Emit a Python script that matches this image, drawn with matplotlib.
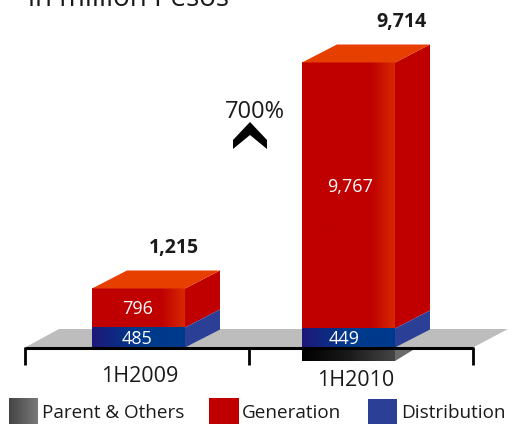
import numpy as np
import matplotlib
matplotlib.use('Agg')
import matplotlib.pyplot as plt
from matplotlib.colors import LinearSegmentedColormap
from matplotlib.patches import Polygon

plt.rcParams['font.family'] = ['Open Sans', 'DejaVu Sans']

periods      = ['1H2009', '1H2010']
generation   = [796, 9767]
distribution = [485, 449]
parent       = [0, -502]
totals       = ['1,215', '9,714']
growth_label = '700%'
title        = 'in million Pesos'

C_GEN    = '#c00000'
C_GEN_HI = '#d62a00'
C_TOP    = '#e63f00'
C_DIST   = '#2a3f95'
C_FLOOR  = '#bcbdbc'
C_TEXT   = '#1a1a1a'

# the picture's value axis is not linear, so heights go through this scale (px)
SCALE_V = [0, 449, 485, 796, 9767]
SCALE_H = [0, 19, 20, 39, 266]
NEG_PX  = 13.5 / 502
BASE_Y  = 347.5
BAR_W   = 93
DX, DY  = 35, -18
BAR_L   = [92, 302]


def to_px(v):
    if v < 0:
        return -v * NEG_PX
    return float(np.interp(v, SCALE_V, SCALE_H))


def hgrad(ax, x0, x1, y0, y1, colors, zorder=3):
    cmap = LinearSegmentedColormap.from_list('g', colors)
    grad = np.linspace(0, 1, 256).reshape(1, -1)
    ax.imshow(grad, cmap=cmap, extent=[x0, x1, y1, y0], aspect='auto',
              interpolation='bilinear', zorder=zorder)


def draw_block(ax, x0, y_top, y_bot, front, side, top=None, zorder=3):
    x1 = x0 + BAR_W
    hgrad(ax, x0, x1, y_top, y_bot, front, zorder=zorder)
    ax.add_patch(Polygon([(x1, y_top), (x1 + DX, y_top + DY), (x1 + DX, y_bot + DY), (x1, y_bot)],
                         closed=True, fc=side, ec='none', zorder=zorder))
    if top:
        ax.add_patch(Polygon([(x0, y_top), (x0 + DX, y_top + DY), (x1 + DX, y_top + DY), (x1, y_top)],
                             closed=True, fc=top, ec='none', zorder=zorder))


fig = plt.figure(figsize=(5.08, 4.24), dpi=100)
ax = fig.add_axes([0, 0, 1, 1])
ax.set_xlim(0, 508)
ax.set_ylim(424, 0)
ax.axis('off')

# floor
ax.add_patch(Polygon([(25, BASE_Y), (59, 329), (508, 329), (473, BASE_Y)],
                     closed=True, fc=C_FLOOR, ec='none', zorder=1))

for i, x0 in enumerate(BAR_L):
    h_par = to_px(parent[i])
    h_dis = to_px(distribution[i])
    h_gen = to_px(generation[i])
    y_dis = BASE_Y - h_dis
    y_gen = y_dis - h_gen
    mid = x0 + BAR_W / 2

    if h_par > 0:
        ax.add_patch(Polygon([(x0 + BAR_W, BASE_Y), (x0 + BAR_W + 22, BASE_Y),
                              (x0 + BAR_W, BASE_Y + h_par)],
                             closed=True, fc='#6a6a6a', ec='none', zorder=2))
        hgrad(ax, x0, x0 + BAR_W, BASE_Y, BASE_Y + h_par, ['#000000', '#1a1a1a', '#454545'], zorder=2)

    draw_block(ax, x0, y_gen, y_dis, [C_GEN, C_GEN, C_GEN, C_GEN, C_GEN_HI], C_GEN, top=C_TOP, zorder=3)
    draw_block(ax, x0, y_dis, BASE_Y, ['#1e1878', '#003a8c', '#003a8c'], C_DIST, zorder=4)

    ax.text(mid - 1 + 3 * i, (y_gen + y_dis) / 2 + 1 - 9 * i, f'{generation[i]:,}', color='white',
            fontsize=13, ha='center', va='center', zorder=6)
    ax.text(mid - 1 - 3 * i, (y_dis + BASE_Y) / 2 + 1, f'{distribution[i]:,}', color='white',
            fontsize=13, ha='center', va='center', zorder=6)
    ax.text(x0 + BAR_W - 11 + i * 17, y_gen - 41, totals[i], color=C_TEXT, fontsize=14,
            fontweight='bold', ha='center', va='center', zorder=6)
    ax.text(mid + 1 + 6 * i, 376 + 4 * i, periods[i], color=C_TEXT, fontsize=15.5,
            ha='center', va='center', zorder=6)

# axis bracket
ax.plot([25, 473], [348, 348], color='black', lw=2.2, solid_capstyle='butt', zorder=5)
for x in [25, 249, 473]:
    ax.plot([x, x], [347, 365], color='black', lw=2, solid_capstyle='butt', zorder=5)

# growth marker
ax.text(254.5, 112, growth_label, color=C_TEXT, fontsize=17, ha='center', va='center')
ax.add_patch(Polygon([(233, 149), (233, 140), (250, 122), (267, 140), (267, 149), (250, 135)],
                     closed=True, fc='black', ec='none'))

ax.text(28, 6, title, color=C_TEXT, fontsize=20, ha='left', va='baseline')

# legend
hgrad(ax, 9, 38, 398, 424, ['#444444', '#7a7a7a'])
ax.add_patch(Polygon([(209, 398), (239, 398), (239, 424), (209, 424)], closed=True, fc=C_GEN, ec='none'))
ax.add_patch(Polygon([(368, 399), (397, 399), (397, 424), (368, 424)], closed=True, fc=C_DIST, ec='none'))
for x, s in [(42, 'Parent & Others'), (242, 'Generation'), (401, 'Distribution')]:
    ax.text(x, 413, s, color=C_TEXT, fontsize=13.6, ha='left', va='center')

ax.set_xlim(0, 508)
ax.set_ylim(424, 0)
fig.savefig('out.png', dpi=100)
